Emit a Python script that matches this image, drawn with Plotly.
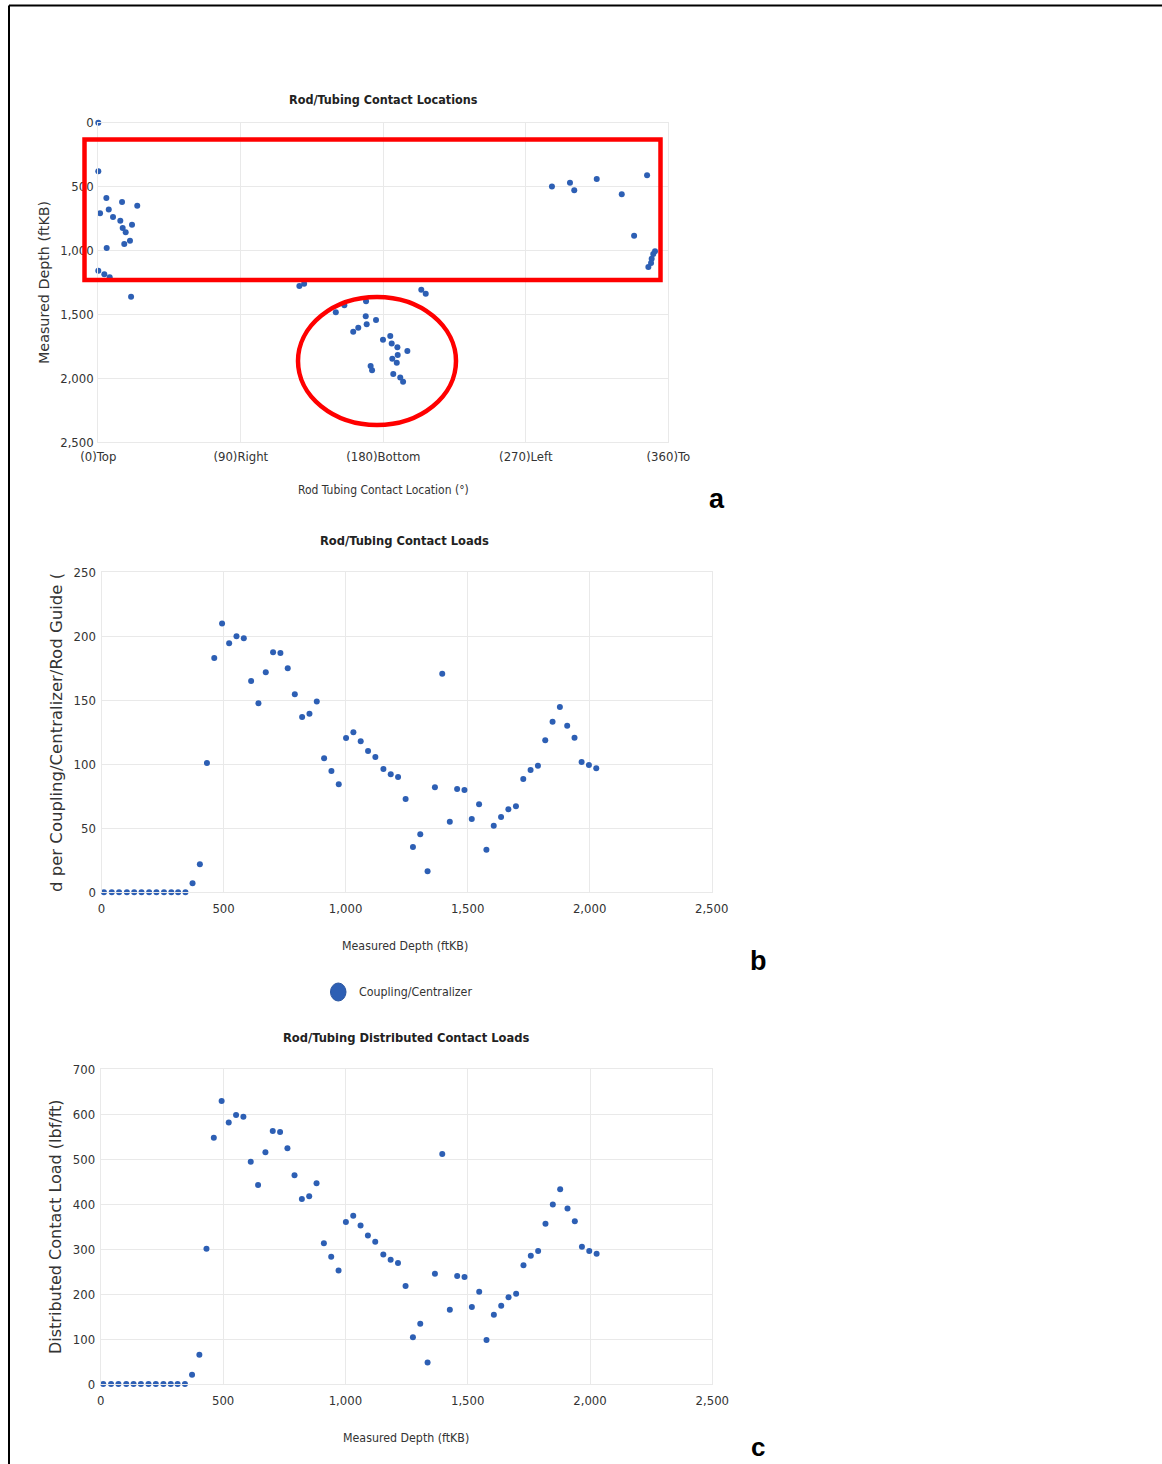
import plotly.graph_objects as go

W, H = 1162, 1464

# ---- Panel a: where the rod touches the tubing wall, by measured depth ----
loc_angle = [0, 0, 5.1, 15, 24.6, 1.1, 6.6, 9.3, 13.9, 21.3, 15.4, 17.3, 20, 16.4, 5.3, 0, 3.8, 7.2, 20.7,
             127, 130, 150, 155.4, 161, 164.2, 169.1, 168.9, 175.4, 169.5, 179.8, 184.4, 185.3, 188.9,
             195.2, 189.1, 185.7, 188.5, 172, 172.9, 186.3, 190.7, 192.5, 204, 206.8,
             286.5, 297.9, 300.6, 314.8, 330.6, 346.6, 338.4, 351.6, 350.5, 349.5, 349.1, 347.4]
loc_depth = [0, 380, 589, 620, 649, 709, 678, 738, 766, 798, 824, 857, 923, 949, 980, 1158, 1186, 1209, 1361,
             1277, 1260, 1483, 1428, 1635, 1603, 1397, 1514, 1543, 1577, 1697, 1668, 1728, 1757,
             1786, 1817, 1846, 1877, 1903, 1937, 1966, 1994, 2026, 1306, 1338,
             500, 469, 529, 440, 560, 412, 884, 1006, 1027, 1064, 1097, 1129]
angle_ticks = [0, 90, 180, 270, 360]
angle_labels = ["(0)Top", "(90)Right", "(180)Bottom", "(270)Left", "(360)To"]

# ---- Panels b and c: contact loads along the rod string ----
md = [10, 42, 72, 104, 134, 164, 195, 225, 256, 286, 314, 344,
      373, 403, 432, 462, 494, 523, 553, 583, 613, 643,
      673, 703, 733, 763, 792, 822, 852, 882, 912, 942,
      972, 1002, 1032, 1062, 1092, 1122, 1155, 1185, 1215, 1246,
      1276, 1306, 1336, 1366, 1396, 1427, 1457, 1487, 1517, 1547,
      1577, 1607, 1637, 1667, 1698, 1728, 1758, 1788, 1818, 1848,
      1878, 1908, 1938, 1967, 1997, 2027]
coupling_load = [0, 0, 0, 0, 0, 0, 0, 0, 0, 0, 0, 0,
                 7, 22, 101, 183, 210, 194.5, 200, 198.4, 165, 147.6,
                 172, 187.5, 187, 175, 154.7, 137, 139.5, 149, 104.7, 94.8,
                 84.4, 120.5, 125, 118, 110.4, 105.7, 96.3, 92.2, 90, 72.9,
                 35.4, 45.3, 16.4, 82, 170.8, 55.2, 80.7, 79.9, 57.3, 68.7,
                 33.3, 52, 58.8, 64.8, 67.2, 88.5, 95.5, 98.9, 118.7, 133.3,
                 144.8, 130.2, 120.8, 101.8, 99.4, 96.9]
distributed_load = [0, 0, 0, 0, 0, 0, 0, 0, 0, 0, 0, 0,
                    20.7, 65, 300.7, 547, 629, 581, 598, 594, 494, 442,
                    515, 562, 560, 524, 464, 411, 417, 446, 313, 283,
                    252, 360, 374, 352, 330, 316, 288, 276, 269, 218,
                    104, 134, 48, 245, 511, 165, 240, 238, 171, 205,
                    98, 154, 174, 193, 200.7, 264, 285, 295.6, 356, 399,
                    433, 390, 361.5, 305, 295.6, 289.6]

BLUE = "#2d5fb4"
NARROW = "Liberation Sans Narrow, DejaVu Sans Condensed, Arial Narrow, sans-serif"
WIDE = "DejaVu Sans, Verdana, sans-serif"
GRID = "#e9e9e9"


def px(x):
    return x / W


def py(y):
    return 1 - y / H


fig = go.Figure()
marker = dict(color=BLUE, size=6)
fig.add_trace(go.Scatter(x=loc_angle, y=loc_depth, mode="markers", marker=marker,
                         xaxis="x", yaxis="y", cliponaxis=False, showlegend=False))
fig.add_trace(go.Scatter(x=md, y=coupling_load, mode="markers", marker=marker,
                         name="Coupling/Centralizer", xaxis="x2", yaxis="y2",
                         cliponaxis=False, showlegend=False))
fig.add_trace(go.Scatter(x=md, y=distributed_load, mode="markers", marker=marker,
                         xaxis="x3", yaxis="y3", cliponaxis=False, showlegend=False))

tickfont = dict(family=NARROW, size=13, color="#333333")
common = dict(showgrid=True, gridcolor=GRID, gridwidth=1, zeroline=False,
              showline=True, linecolor=GRID, mirror=True, ticks="", automargin=False,
              tickfont=tickfont, fixedrange=True)

fig.update_layout(
    width=W, height=H, autosize=False,
    margin=dict(l=0, r=0, t=0, b=0, pad=0, autoexpand=False),
    paper_bgcolor="white", plot_bgcolor="white", showlegend=False,
    xaxis=dict(domain=[px(98.3), px(668.3)], range=[0, 360], tickvals=angle_ticks,
               ticktext=angle_labels, anchor="y", ticklabelstandoff=2, **common),
    yaxis=dict(domain=[py(442.3), py(122.7)], range=[2500, 0], dtick=500,
               tickformat=",", anchor="x", ticklabelstandoff=1, **common),
    xaxis2=dict(domain=[px(101.5), px(711.7)], range=[0, 2500], dtick=500,
                tickformat=",", anchor="y2", ticklabelstandoff=4, **common),
    yaxis2=dict(domain=[py(892.3), py(572.3)], range=[0, 250], dtick=50,
                anchor="x2", ticklabelstandoff=2, **common),
    xaxis3=dict(domain=[px(100.8), px(712.3)], range=[0, 2500], dtick=500,
                tickformat=",", anchor="y3", ticklabelstandoff=4, **common),
    yaxis3=dict(domain=[py(1384), py(1069)], range=[0, 700], dtick=100,
                anchor="x3", ticklabelstandoff=2, **common),
)


def label(text, x, y, font, size, color="#222222", angle=0, xanchor="center", bold=False):
    fig.add_annotation(text=f"<b>{text}</b>" if bold else text, x=px(x), y=py(y),
                       xref="paper", yref="paper", showarrow=False, textangle=angle,
                       xanchor=xanchor, yanchor="middle",
                       font=dict(family=font, size=size, color=color))


# chart titles
label("Rod/Tubing Contact Locations", 383, 100, NARROW, 12.5, bold=True)
label("Rod/Tubing Contact Loads", 405, 540, NARROW, 12.8, bold=True)
label("Rod/Tubing Distributed Contact Loads", 406, 1037, NARROW, 12.8, bold=True)

# axis titles
label("Rod Tubing Contact Location (°)", 383, 490, NARROW, 12, "#333333")
label("Measured Depth (ftKB)", 44, 283, WIDE, 14.3, "#333333", angle=-90)
label("Measured Depth (ftKB)", 405, 946, NARROW, 12.3, "#333333")
label("d per Coupling/Centralizer/Rod Guide (", 56, 733, WIDE, 16.5, "#333333", angle=-90)
label("Measured Depth (ftKB)", 406, 1438, NARROW, 12.3, "#333333")
label("Distributed Contact Load (lbf/ft)", 55, 1227, WIDE, 16, "#333333", angle=-90)

# legend of panel b
fig.add_shape(type="circle", xref="paper", yref="paper",
              x0=px(330.5), x1=px(346), y0=py(1001), y1=py(983),
              fillcolor=BLUE, line=dict(color="#2a55a0", width=1))
label("Coupling/Centralizer", 357, 992, NARROW, 12.3, "#333333", xanchor="left")

# panel letters
label("a", 717, 499, "Liberation Sans, Arial, sans-serif", 27, "#000000", bold=True)
label("b", 758, 961, "Liberation Sans, Arial, sans-serif", 27, "#000000", bold=True)
label("c", 758, 1447, "Liberation Sans, Arial, sans-serif", 26, "#000000", bold=True)

# highlight marks on panel a
fig.add_shape(type="rect", xref="paper", yref="paper",
              x0=px(84.5), x1=px(660.5), y0=py(280), y1=py(139.5),
              line=dict(color="#ff0000", width=4.5))
fig.add_shape(type="circle", xref="paper", yref="paper",
              x0=px(298), x1=px(456), y0=py(425), y1=py(297),
              line=dict(color="#ff0000", width=4.5))

# figure frame
fig.add_shape(type="line", xref="paper", yref="paper", x0=px(9), x1=1, y0=py(5.5), y1=py(5.5),
              line=dict(color="#000000", width=2))
fig.add_shape(type="line", xref="paper", yref="paper", x0=px(9), x1=px(9), y0=py(5.5), y1=0,
              line=dict(color="#000000", width=2))

# keep the page itself free of margins and scrollbars
page_css = ("var s=document.createElement('style');"
            "s.textContent='html,body{margin:0;padding:0;overflow:hidden;}';"
            "document.head.appendChild(s);")
fig.write_html("out.html", config={"responsive": False, "displayModeBar": False},
               post_script=page_css)
